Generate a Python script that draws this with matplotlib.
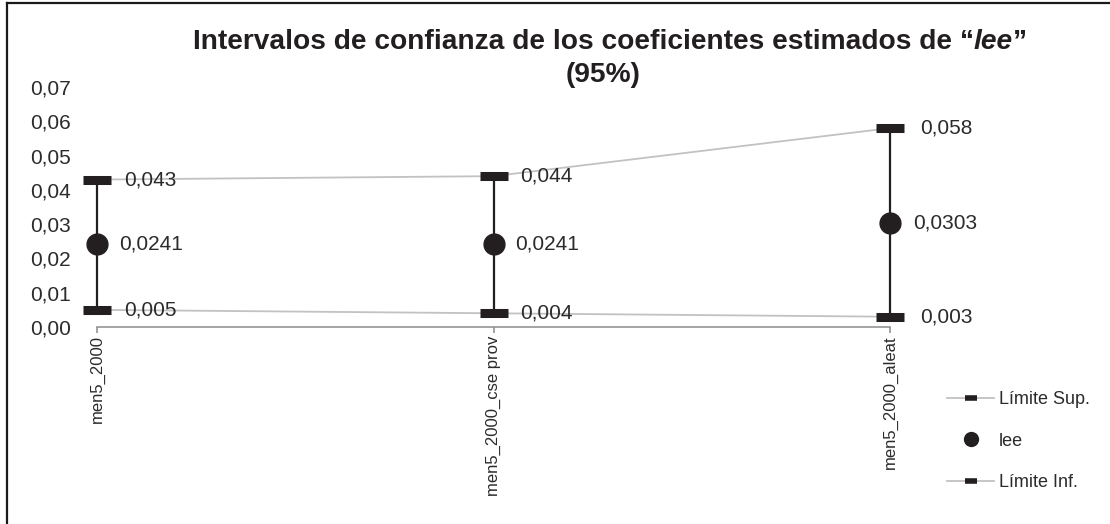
import matplotlib
matplotlib.use("Agg")
import matplotlib.pyplot as plt
from matplotlib.lines import Line2D
from matplotlib import font_manager

# Data
categories = ["men5_2000", "men5_2000_cse prov", "men5_2000_aleat"]
upper = [0.043, 0.044, 0.058]
estimate = [0.0241, 0.0241, 0.0303]
lower = [0.005, 0.004, 0.003]
upper_labels = ["0,043", "0,044", "0,058"]
estimate_labels = ["0,0241", "0,0241", "0,0303"]
lower_labels = ["0,005", "0,004", "0,003"]
yticks = [0.00, 0.01, 0.02, 0.03, 0.04, 0.05, 0.06, 0.07]
ytick_labels = ["0,00", "0,01", "0,02", "0,03", "0,04", "0,05", "0,06", "0,07"]


def pick_family(names):
    for n in names:
        try:
            font_manager.findfont(font_manager.FontProperties(family=n),
                                  fallback_to_default=False)
            return n
        except Exception:
            continue
    return "DejaVu Sans"


BASE = pick_family(["Liberation Sans", "Arial", "DejaVu Sans"])
plt.rcParams["font.family"] = BASE

W, H = 1110, 524
fig = plt.figure(figsize=(W / 100, H / 100), dpi=100)
ax = fig.add_axes([97 / W, 1 - 327 / H, (890 - 97) / W, (327 - 87) / H])

x = list(range(len(categories)))
GRAY = "#c2c2c2"
DARK = "#231f20"
TXT = "#2b2b2b"

# Gray connecting lines for the interval limits
ax.plot(x, upper, color=GRAY, lw=1.3, zorder=1, clip_on=False)
ax.plot(x, lower, color=GRAY, lw=1.3, zorder=1, clip_on=False)

# Vertical interval bars
ax.vlines(x, lower, upper, color=DARK, lw=1.6, zorder=2, clip_on=False)

# Limit markers and point estimates
ax.plot(x, upper, ls="none", marker="_", ms=20, mew=6.5, color=DARK, zorder=3, clip_on=False)
ax.plot(x, lower, ls="none", marker="_", ms=20, mew=6.5, color=DARK, zorder=3, clip_on=False)
ax.plot(x, estimate, ls="none", marker="o", ms=15, color=DARK, zorder=4, clip_on=False)

# Value labels
offs_lim = [27, 27, 30]
offs_est = [22, 22, 23]
for i in x:
    ax.annotate(upper_labels[i], (i, upper[i]), xytext=(offs_lim[i] * 0.72, 0),
                textcoords="offset points", va="center", ha="left",
                fontsize=15, color=TXT, zorder=5)
    ax.annotate(lower_labels[i], (i, lower[i]), xytext=(offs_lim[i] * 0.72, 0),
                textcoords="offset points", va="center", ha="left",
                fontsize=15, color=TXT, zorder=5)
    ax.annotate(estimate_labels[i], (i, estimate[i]), xytext=(offs_est[i] * 0.72, 0),
                textcoords="offset points", va="center", ha="left",
                fontsize=15, color=TXT, zorder=5)

ax.set_xlim(0, 2)
ax.set_ylim(0, 0.07)
ax.set_yticks(yticks)
ax.set_yticklabels(ytick_labels, fontsize=15, color=TXT)
ax.tick_params(axis="y", length=0, pad=19)
ax.set_xticks(x)
ax.set_xticklabels(categories, rotation=90, fontsize=12, color=TXT)
ax.tick_params(axis="x", direction="out", length=4, width=1.1, color="#8c8c8c", pad=2)
for s in ("top", "right", "left"):
    ax.spines[s].set_visible(False)
ax.spines["bottom"].set_color("#8c8c8c")
ax.spines["bottom"].set_linewidth(1.1)

# Legend
h_sup = Line2D([], [], color=GRAY, lw=1.3, marker="_", ms=9, mew=4, mec=DARK)
h_est = Line2D([], [], ls="none", marker="o", ms=10, color=DARK)
h_inf = Line2D([], [], color=GRAY, lw=1.3, marker="_", ms=9, mew=4, mec=DARK)
fig.legend([h_sup, h_est, h_inf], ["Límite Sup.", "lee", "Límite Inf."],
           loc="upper left", bbox_to_anchor=(931 / W, 1 - 375 / H),
           frameon=False, fontsize=13, handlelength=2.6, handletextpad=0.25,
           labelspacing=1.35, labelcolor=TXT)

# Title, with the variable name in bold italic, sized to span its line width
fig.canvas.draw()
r = fig.canvas.get_renderer()
ty = 1 - 42 / H
parts = [("Intervalos de confianza de los coeficientes estimados de \u201c", "normal"),
         ("lee", "italic"),
         ("\u201d", "normal")]
line_width = 834.0
tsize = 20.0
texts = []
for s, st in parts:
    t = fig.text(0, ty, s, fontsize=tsize, fontweight="bold", style=st,
                 color=DARK, va="center", ha="left")
    texts.append(t)
total = sum(t.get_window_extent(r).width for t in texts)
tsize = tsize * line_width / total
for t in texts:
    t.set_fontsize(tsize)
widths = [t.get_window_extent(r).width for t in texts]
x0 = 610 - sum(widths) / 2
for t, w in zip(texts, widths):
    t.set_x(x0 / W)
    x0 += w
fig.text(603 / W, 1 - 75 / H, "(95%)", fontsize=tsize, fontweight="bold",
         color=DARK, va="center", ha="center")

# Outer frame
fig.add_artist(Line2D([7 / W, 7 / W], [0, 1 - 3 / H], color="#1a1a1a", lw=1.6,
                      transform=fig.transFigure))
fig.add_artist(Line2D([7 / W, 1], [1 - 3 / H, 1 - 3 / H], color="#1a1a1a", lw=1.6,
                      transform=fig.transFigure))

fig.savefig("out.png", dpi=100, facecolor="white")
